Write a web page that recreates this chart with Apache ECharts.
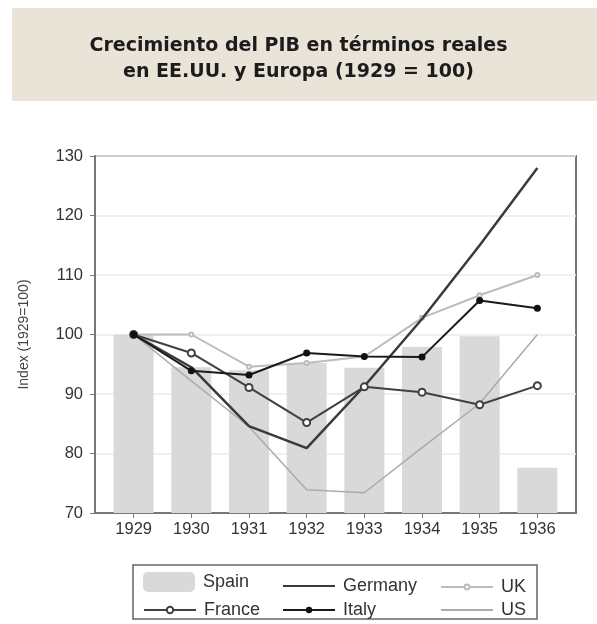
<!DOCTYPE html>
<html>
<head>
<meta charset="utf-8">
<script src="https://cdn.jsdelivr.net/npm/echarts@6/dist/echarts.min.js"></script>
<style>
html,body{margin:0;padding:0;background:#fff;}
#chart{width:597px;height:624px;}
</style>
</head>
<body>
<div id="chart"></div>
<script>
const years = [1929, 1930, 1931, 1932, 1933, 1934, 1935, 1936];
const yTicks = [70, 80, 90, 100, 110, 120, 130];
const spain   = [100, 94.5, 94.0, 95.2, 94.4, 97.9, 99.7, 77.6];
const germany = [100, 94.5, 84.6, 80.9, 91.3, 102.6, 115.0, 128.0];
const uk      = [100, 100, 94.6, 95.2, 96.3, 102.8, 106.6, 110.0];
const france  = [100, 96.9, 91.1, 85.2, 91.2, 90.3, 88.2, 91.4];
const italy   = [100, 93.9, 93.2, 96.9, 96.3, 96.2, 105.7, 104.4];
const us      = [100, 92.2, 84.5, 73.9, 73.4, 81.0, 88.4, 100.0];

const pair = arr => years.map((y, i) => [y, arr[i]]);
const FONT = 'Liberation Sans';

const chart = echarts.init(document.getElementById('chart'), null, {renderer: 'canvas'});

function legendAt(name, left, top, h, extra) {
  return Object.assign({
    data: [name], left: left, top: top, orient: 'vertical',
    itemWidth: 52, itemHeight: h, padding: 0,
    selectedMode: false,
    textStyle: {fontFamily: FONT, fontSize: 18, color: '#333', padding: [0, 0, 0, 3]}
  }, extra || {});
}

chart.setOption({
  animation: false,
  backgroundColor: '#fff',
  title: {
    text: 'Crecimiento del PIB en términos reales\nen EE.UU. y Europa (1929 = 100)',
    left: 'center', top: 33, padding: 0,
    textStyle: {fontFamily: 'DejaVu Sans', fontWeight: 'bold', fontSize: 19, lineHeight: 26, color: '#1c1c1c'}
  },
  graphic: [
    {type: 'rect', z: -10, shape: {x: 12, y: 8, width: 585, height: 93}, style: {fill: '#e9e3d8'}},
    {type: 'rect', z: -10, shape: {x: 133, y: 565, width: 404, height: 54}, style: {fill: '#fff', stroke: '#666', lineWidth: 1.5}}
  ],
  legend: [
    legendAt('Spain', 143, 572, 20),
    legendAt('France', 143, 601, 8),
    legendAt('Germany', 282, 577, 8, {itemStyle: {opacity: 0}}),
    legendAt('Italy', 282, 601, 8),
    legendAt('UK', 440, 578, 6),
    legendAt('US', 440, 601, 8, {itemStyle: {opacity: 0}})
  ],
  grid: {
    left: 95, top: 156, right: 21, bottom: 111,
    show: true, borderColor: '#777', borderWidth: 2, backgroundColor: '#fff'
  },
  xAxis: {
    type: 'value', min: 1928.33, max: 1936.67,
    axisLine: {show: true, lineStyle: {color: '#777', width: 2}},
    axisTick: {show: true, customValues: years, length: 5, lineStyle: {color: '#777'}},
    axisLabel: {customValues: years, margin: 8, fontFamily: FONT, fontSize: 16.5, color: '#333',
      formatter: v => String(Math.round(v))},
    splitLine: {show: false}
  },
  yAxis: {
    type: 'value', min: 70, max: 130, interval: 10,
    name: 'Index (1929=100)', nameLocation: 'middle', nameGap: 64, nameRotate: 90,
    nameTextStyle: {fontFamily: FONT, fontSize: 14, color: '#444'},
    axisLine: {show: true, lineStyle: {color: '#777', width: 2}},
    axisTick: {show: true, length: 5, lineStyle: {color: '#777'}},
    axisLabel: {margin: 12, fontFamily: FONT, fontSize: 16.5, color: '#333'},
    splitLine: {show: true, lineStyle: {color: '#ebebeb', width: 1.5}}
  },
  series: [
    {name: 'Spain', type: 'bar', data: pair(spain), barWidth: 40, z: 1,
      itemStyle: {color: '#d9d9d9'}},
    {name: 'US', type: 'line', data: pair(us), symbol: 'none', z: 2,
      lineStyle: {color: '#ababab', width: 1.5}, itemStyle: {color: '#ababab'}},
    {name: 'UK', type: 'line', data: pair(uk), symbol: 'emptyCircle', symbolSize: 4, z: 3,
      lineStyle: {color: '#bcbcbc', width: 2}, itemStyle: {color: '#bcbcbc'}},
    {name: 'Germany', type: 'line', data: pair(germany), symbol: 'none', z: 4,
      lineStyle: {color: '#3a3a3a', width: 2.5}, itemStyle: {color: '#3a3a3a'}},
    {name: 'France', type: 'line', data: pair(france), symbol: 'emptyCircle', symbolSize: 7, z: 5,
      lineStyle: {color: '#404040', width: 2}, itemStyle: {color: '#404040', borderWidth: 1.5}},
    {name: 'Italy', type: 'line', data: pair(italy), symbol: 'circle', symbolSize: 7, z: 6,
      lineStyle: {color: '#1a1a1a', width: 2}, itemStyle: {color: '#111'}}
  ]
});
</script>
</body>
</html>
